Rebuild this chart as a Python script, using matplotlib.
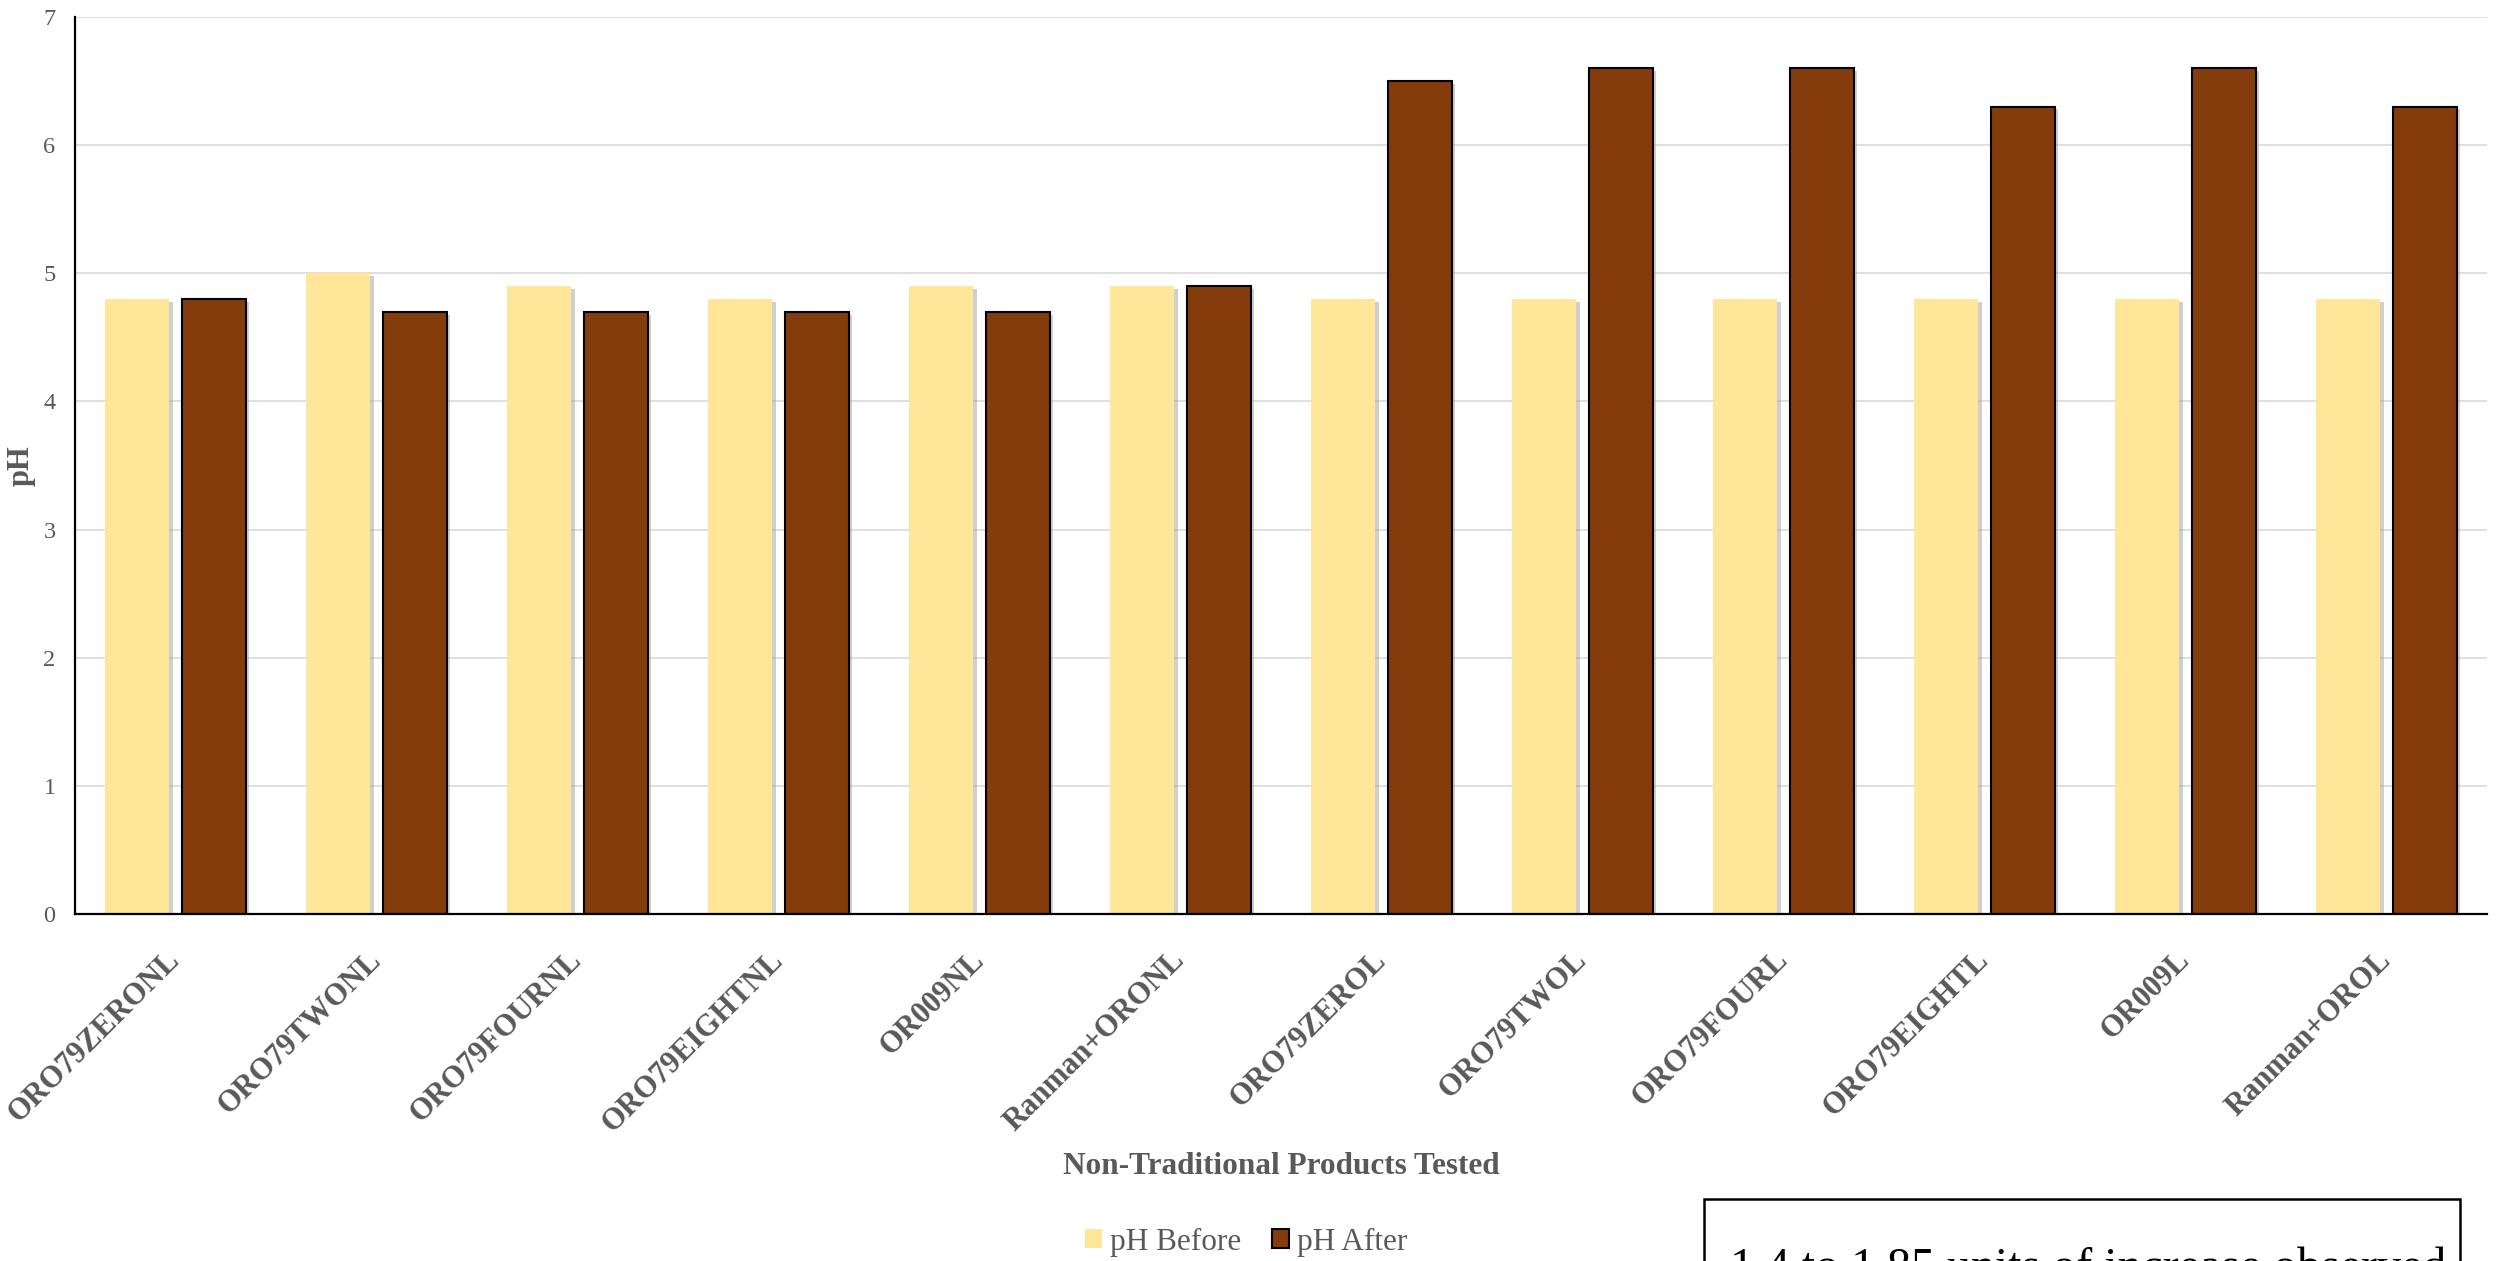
import matplotlib
matplotlib.use("Agg")
import matplotlib.pyplot as plt
import matplotlib.patheffects as pe
from matplotlib.patches import Rectangle
import numpy as np

categories = ["ORO79ZERONL", "ORO79TWONL", "ORO79FOURNL", "ORO79EIGHTNL", "OR009NL",
              "Ranman+ORONL", "ORO79ZEROL", "ORO79TWOL", "ORO79FOURL", "ORO79EIGHTL",
              "OR009L", "Ranman+OROL"]
ph_before = [4.8, 5.0, 4.9, 4.8, 4.9, 4.9, 4.8, 4.8, 4.8, 4.8, 4.8, 4.8]
ph_after = [4.8, 4.7, 4.7, 4.7, 4.7, 4.9, 6.5, 6.6, 6.6, 6.3, 6.6, 6.3]
series_names = ["pH Before", "pH After"]
annotation = "1.4 to 1.85 units of increase observed"

SERIF = ['Liberation Serif', 'DejaVu Serif']
plt.rcParams['font.family'] = SERIF
GRAY = '#595959'
C_BEFORE = '#FFE699'
C_AFTER = '#843C0C'

W, H = 2503, 1261
fig = plt.figure(figsize=(W / 100, H / 100), dpi=100)
ax = fig.add_axes([75 / W, 1 - 914 / H, (2487 - 75) / W, (914 - 17) / H])

x = np.arange(len(categories))
bw = 0.317
off = 0.19
shadow = [pe.SimplePatchShadow(offset=(2.5, -2), shadow_rgbFace='#A0A0A0', alpha=0.5), pe.Normal()]
b1 = ax.bar(x - off, ph_before, bw, color=C_BEFORE, edgecolor='none', zorder=3, label=series_names[0])
b2 = ax.bar(x + off, ph_after, bw, color=C_AFTER, edgecolor='black', linewidth=1.5, zorder=3, label=series_names[1])
for p in list(b1) + list(b2):
    p.set_path_effects(shadow)

ax.set_xlim(-0.5, len(categories) - 0.5)
ax.set_ylim(0, 7)
ax.set_yticks(range(0, 8))
ax.yaxis.grid(True, color='#D9D9D9', linewidth=1.2, zorder=0)
ax.set_axisbelow(True)
for s in ['top', 'right']:
    ax.spines[s].set_visible(False)
for s in ['left', 'bottom']:
    ax.spines[s].set_color('black')
    ax.spines[s].set_linewidth(1.6)
    ax.spines[s].set_zorder(4)

ax.tick_params(axis='y', length=0, pad=14, labelsize=17.5, labelcolor=GRAY)
ax.tick_params(axis='x', length=0, pad=30)
ax.set_xticks(x)
ax.set_xticklabels(categories, rotation=45, ha='right', va='center', rotation_mode='anchor',
                   fontsize=22, fontweight='bold', color=GRAY)

ax.set_ylabel("pH", fontsize=22, fontweight='bold', color=GRAY, va='center', ha='center')
ax.yaxis.set_label_coords((21 - 75) / (2487 - 75), 0.5)
ax.set_xlabel("Non-Traditional Products Tested", fontsize=22.5, fontweight='bold', color=GRAY, va='center')
ax.xaxis.set_label_coords(0.5, (914 - 1167) / (914 - 17))

leg = fig.legend(handles=[b1, b2], labels=series_names, loc='center',
                 bbox_to_anchor=(1246 / W, 1 - 1242 / H), ncol=2, frameon=False,
                 fontsize=22.5, handlelength=0.55, handleheight=0.55, handletextpad=0.25,
                 columnspacing=1.0, borderpad=0)
for t in leg.get_texts():
    t.set_color(GRAY)
for h in leg.legend_handles:
    h.set_path_effects([])

fig.add_artist(Rectangle((1704 / W, -0.1), (2460 - 1704) / W, 0.1 + 1 - 1199 / H,
                         transform=fig.transFigure, facecolor='white', edgecolor='black',
                         linewidth=1.8, zorder=5))
fig.text(1730 / W, 1 - 1247 / H, annotation, fontsize=34.5, color='black', va='top', ha='left',
         zorder=6, family=SERIF)

fig.savefig("out.png", dpi=100)
